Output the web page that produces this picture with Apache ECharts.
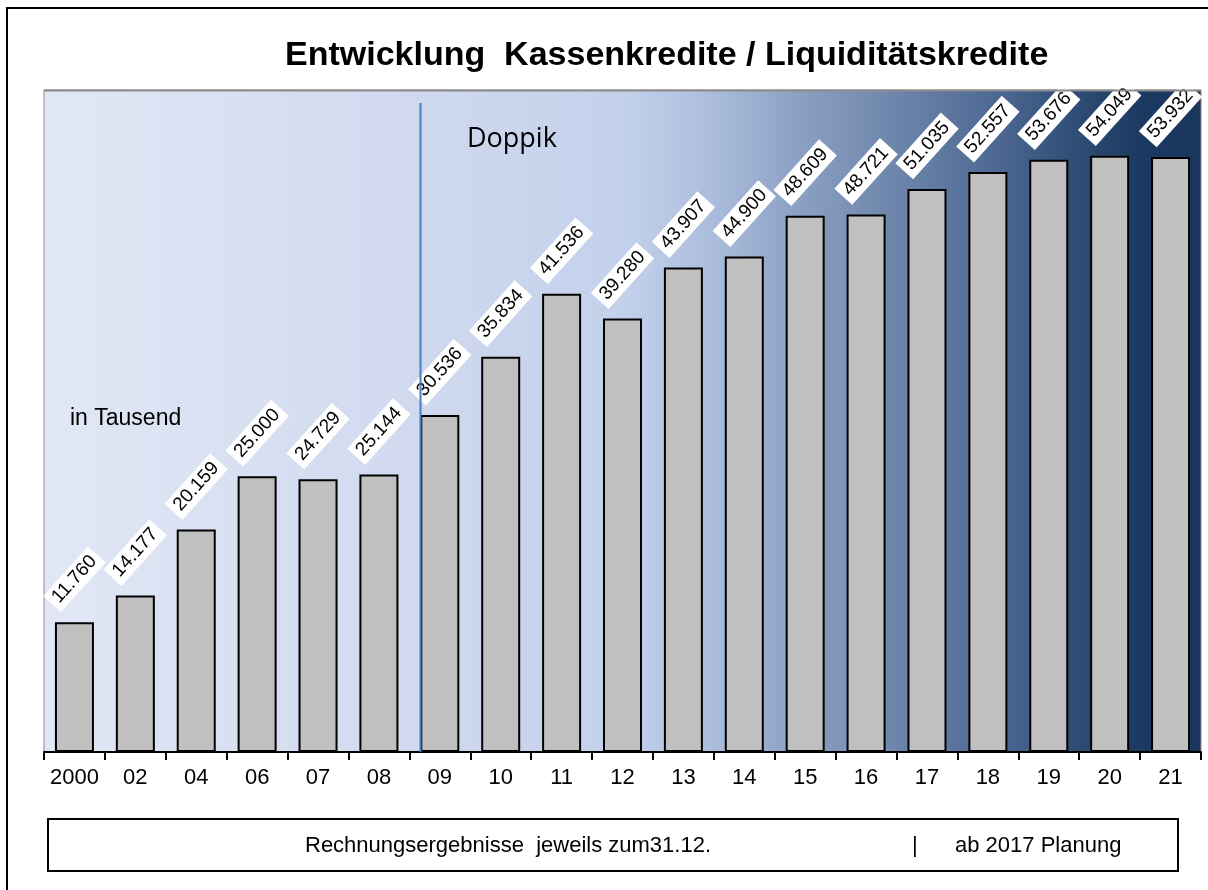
<!DOCTYPE html>
<html><head><meta charset="utf-8">
<script src="https://cdn.jsdelivr.net/npm/echarts@6/dist/echarts.min.js"></script>
<style>html,body{margin:0;padding:0;background:#fff}#c{width:1208px;height:890px}</style>
</head><body><div id="c"></div>
<script>
const categories = ['2000','02','04','06','07','08','09','10','11','12','13','14','15','16','17','18','19','20','21'];
const values = [11760,14177,20159,25000,24729,25144,30536,35834,41536,39280,43907,44900,48609,48721,51035,52557,53676,54049,53932];
const titleText = 'Entwicklung  Kassenkredite / Liquiditätskredite';
const unitText = 'in Tausend';
const phaseText = 'Doppik';
const phaseStart = '09';
const footLeft = 'Rechnungsergebnisse  jeweils zum31.12.';
const footSep = '|';
const footRight = 'ab 2017 Planung';
const yMin = 0, yMax = 60000;

function fmt(v){ return String(v).replace(/\B(?=(\d{3})+(?!\d))/g,'.'); }

const FONT = '"Liberation Sans", Arial, sans-serif';
const G = {left:44, right:7, top:90, bottom:138};
const BAR_W = 39;

const chart = echarts.init(document.getElementById('c'));
chart.setOption({
  animation:false,
  backgroundColor:'#fff',
  title:{text:titleText, left:280, top:34, textStyle:{fontFamily:FONT, fontSize:34, fontWeight:'bold', color:'#000'}},
  grid:{left:G.left, right:G.right, top:G.top, bottom:G.bottom, show:true, borderColor:'#8c8c8c', borderWidth:1,
    backgroundColor:{type:'linear', x:0, y:0, x2:1, y2:0, colorStops:[
      {offset:0, color:'#e1e7f5'},
      {offset:0.3, color:'#d1daef'},
      {offset:0.5, color:'#c3d1eb'},
      {offset:0.57, color:'#aebfde'},
      {offset:0.65, color:'#8ca1c3'},
      {offset:0.74, color:'#6c84aa'},
      {offset:0.83, color:'#4a6690'},
      {offset:0.91, color:'#27456d'},
      {offset:0.95, color:'#1c3961'},
      {offset:1, color:'#1a365d'}
    ]}},
  xAxis:{type:'category', data:categories, boundaryGap:true,
    axisLine:{lineStyle:{color:'#000', width:2}},
    axisTick:{show:true, interval:0, length:8, lineStyle:{color:'#000', width:2}},
    axisLabel:{interval:0, fontFamily:FONT, fontSize:22, color:'#000', margin:15}},
  yAxis:{type:'value', min:yMin, max:yMax, show:false, splitLine:{show:false}},
  series:[{type:'bar', data:values, barWidth:BAR_W,
    itemStyle:{color:'#c0c0c0', borderColor:'#000', borderWidth:2},
    label:{show:true, position:'top', distance:43, rotate:48, align:'center', verticalAlign:'middle',
      formatter:p=>fmt(p.value), backgroundColor:'#fff', padding:[2,5], lineHeight:20,
      fontFamily:FONT, fontSize:19, color:'#000'}
  }]
});

const lx = Math.round(chart.convertToPixel({xAxisIndex:0}, phaseStart) - BAR_W/2) + 0.5;
const yBottom = chart.convertToPixel({yAxisIndex:0}, yMin);
chart.setOption({graphic:[
  {type:'rect', shape:{x:7, y:8, width:1300, height:1000}, style:{fill:'none', stroke:'#000', lineWidth:2}, silent:true},
  {type:'line', shape:{x1:lx, y1:103, x2:lx, y2:yBottom}, style:{stroke:'#4a7cc0', lineWidth:2}, z:50},
  {type:'line', shape:{x1:G.left, y1:G.top+0.5, x2:1208-G.right, y2:G.top+0.5}, style:{stroke:'#8c8c8c', lineWidth:2}, z:100},
  {type:'text', x:467, y:139, style:{text:phaseText, font:'27px "Open Sans", sans-serif', fill:'#000', textVerticalAlign:'middle'}, z:50},
  {type:'text', x:70, y:419, style:{text:unitText, font:'23px '+FONT, fill:'#000', textVerticalAlign:'middle'}, z:50},
  {type:'rect', shape:{x:48, y:819, width:1130, height:52}, style:{fill:'#fff', stroke:'#000', lineWidth:2}},
  {type:'text', x:305, y:846, style:{text:footLeft, font:'22px '+FONT, fill:'#000', textVerticalAlign:'middle'}},
  {type:'text', x:912, y:846, style:{text:footSep, font:'22px '+FONT, fill:'#000', textVerticalAlign:'middle'}},
  {type:'text', x:955, y:846, style:{text:footRight, font:'22px '+FONT, fill:'#000', textVerticalAlign:'middle'}}
]});
</script></body></html>
